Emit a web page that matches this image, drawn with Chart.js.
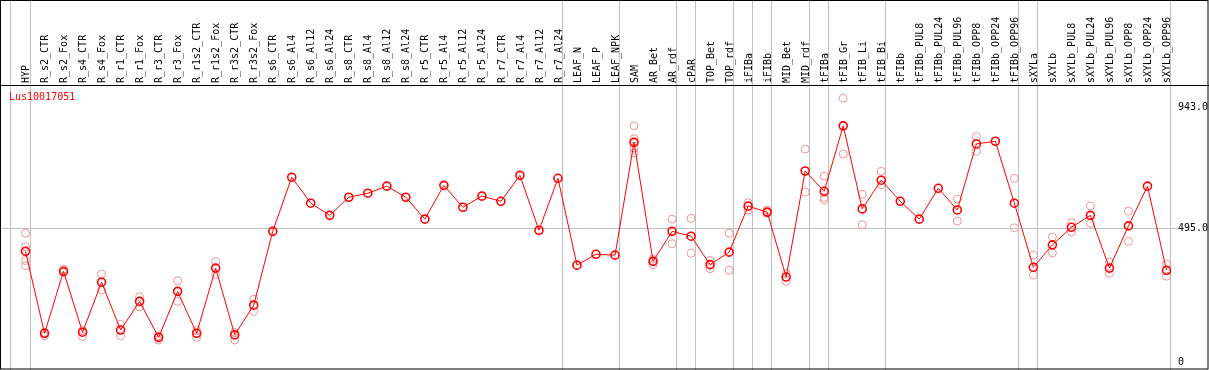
<!DOCTYPE html>
<html>
<head>
<meta charset="utf-8">
<script src="https://cdn.jsdelivr.net/npm/chart.js@4.4.1/dist/chart.umd.min.js"></script>
<style>
  html, body { margin: 0; padding: 0; background: #fff; }
  #wrap { width: 1209px; height: 370px; }
</style>
</head>
<body>
<div id="wrap"><canvas id="chart" width="1209" height="370"></canvas></div>
<script>
// gene shown in the panel
var geneName = 'Lus10017051';

var categories = [
    'HYP', 'R_s2_CTR', 'R_s2_Fox', 'R_s4_CTR', 'R_s4_Fox', 'R_r1_CTR', 'R_r1_Fox',
    'R_r3_CTR', 'R_r3_Fox', 'R_r1s2_CTR', 'R_r1s2_Fox', 'R_r3s2_CTR', 'R_r3s2_Fox',
    'R_s6_CTR', 'R_s6_Al4', 'R_s6_Al12', 'R_s6_Al24', 'R_s8_CTR', 'R_s8_Al4',
    'R_s8_Al12', 'R_s8_Al24', 'R_r5_CTR', 'R_r5_Al4', 'R_r5_Al12', 'R_r5_Al24',
    'R_r7_CTR', 'R_r7_Al4', 'R_r7_Al12', 'R_r7_Al24', 'LEAF_N', 'LEAF_P', 'LEAF_NPK',
    'SAM', 'AR_Bet', 'AR_rdf', 'cPAR', 'TOP_Bet', 'TOP_rdf', 'iFIBa', 'iFIBb',
    'MID_Bet', 'MID_rdf', 'tFIBa', 'tFIB_Gr', 'tFIB_Li', 'tFIB_Bi', 'tFIBb',
    'tFIBb_PUL8', 'tFIBb_PUL24', 'tFIBb_PUL96', 'tFIBb_OPP8', 'tFIBb_OPP24', 'tFIBb_OPP96',
    'sXYLa', 'sXYLb', 'sXYLb_PUL8', 'sXYLb_PUL24', 'sXYLb_PUL96',
    'sXYLb_OPP8', 'sXYLb_OPP24', 'sXYLb_OPP96'
];

// mean expression per sample
var meanValues = [
    409, 106, 335, 110, 295, 118, 224, 91, 261, 106, 347, 100, 210,
    483, 683, 587, 542, 609, 624, 650, 609, 528, 653, 572, 613,
    594, 690, 487, 679, 358, 398, 395,
    812, 372, 483, 465, 360, 406, 576, 554,
    314, 706, 631, 873, 566, 672, 594,
    528, 642, 562, 806, 816, 587,
    350, 433, 498, 542, 347, 503, 650, 339
];

// individual replicates (empty where only the mean is visible)
var replicateValues = [
    [476, 426, 375, 356], [110, 97], [343, 332], [116, 94], [325, 266], [139, 97], [241, 204],
    [97, 81], [300, 224], [116, 91], [371, 324], [110, 81], [232, 187],
    [], [], [], [], [], [], [], [], [], [], [], [],
    [], [], [], [], [], [], [],
    [873, 825, 791, 773], [380, 360], [528, 437], [531, 402], [375, 345], [476, 339], [589, 562], [562, 550],
    [327, 298], [787, 628], [687, 608, 599], [975, 769], [620, 507], [705, 655], [],
    [], [], [602, 521], [833, 779], [], [679, 496],
    [395, 321], [462, 403], [515, 481], [577, 513], [369, 328], [558, 446], [], [362, 317]
];

var yTickValues = [0, 495, 943];
var yTickLabels = ['0', '495.0', '943.0'];

// sample index after which a group separator is drawn
var groupEnds = [-1, 0, 28, 31, 34, 35, 37, 38, 39, 41, 42, 45, 52, 53, 60];

var monoFont = { family: 'DejaVu Sans Mono', size: 10 };

var replicatePoints = [];
replicateValues.forEach(function (reps, i) {
    reps.forEach(function (v) {
        replicatePoints.push({ x: categories[i], y: v });
    });
});

var framePlugin = {
    id: 'frame',
    beforeDraw: function (chart) {
        var ctx = chart.ctx;
        var xs = chart.scales.x;
        var ys = chart.scales.y;
        var step = xs.getPixelForValue(1) - xs.getPixelForValue(0);
        ctx.save();
        ctx.strokeStyle = '#c0c0c0';
        ctx.lineWidth = 1;
        groupEnds.forEach(function (i) {
            var x = Math.round(xs.getPixelForValue(0) + step * i + 4) + 0.5;
            ctx.beginPath();
            ctx.moveTo(x, 0);
            ctx.lineTo(x, chart.height);
            ctx.stroke();
        });
        var y = Math.round(ys.getPixelForValue(495)) + 0.5;
        ctx.beginPath();
        ctx.moveTo(1, y);
        ctx.lineTo(chart.chartArea.right + 2, y);
        ctx.stroke();
        ctx.restore();
    },
    afterDraw: function (chart) {
        var ctx = chart.ctx;
        var ys = chart.scales.y;
        ctx.save();
        ctx.strokeStyle = '#000';
        ctx.lineWidth = 1;
        ctx.strokeRect(0.5, 0.5, chart.width - 1.5, chart.height - 1.5);
        ctx.beginPath();
        ctx.moveTo(0, 85.5);
        ctx.lineTo(chart.width, 85.5);
        ctx.stroke();
        ctx.font = '10px "DejaVu Sans Mono"';
        ctx.textBaseline = 'middle';
        ctx.textAlign = 'left';
        ctx.fillStyle = '#000';
        yTickValues.forEach(function (v, k) {
            ctx.fillText(yTickLabels[k], chart.chartArea.right + 2, ys.getPixelForValue(v));
        });
        ctx.fillStyle = '#ff0000';
        ctx.fillText(geneName, 9, 97);
        ctx.restore();
    }
};

new Chart(document.getElementById('chart').getContext('2d'), {
    type: 'line',
    data: {
        labels: categories,
        datasets: [{
            label: 'mean',
            data: meanValues,
            borderColor: '#ff0000',
            borderWidth: 1,
            pointRadius: 4,
            pointBorderWidth: 1.6,
            pointBorderColor: '#ff0000',
            pointBackgroundColor: 'rgba(0,0,0,0)',
            tension: 0,
            fill: false
        }, {
            label: 'replicates',
            data: replicatePoints,
            showLine: false,
            pointRadius: 4,
            pointBorderWidth: 1,
            pointBorderColor: '#ee9494',
            pointBackgroundColor: 'rgba(0,0,0,0)'
        }]
    },
    options: {
        responsive: false,
        maintainAspectRatio: false,
        animation: false,
        layout: {
            autoPadding: false,
            padding: { left: 16, right: 33, top: 0, bottom: 1 }
        },
        plugins: {
            legend: { display: false },
            tooltip: { enabled: false }
        },
        scales: {
            x: {
                type: 'category',
                position: 'top',
                offset: true,
                grid: { display: false, drawTicks: false },
                border: { display: false },
                ticks: {
                    autoSkip: false,
                    minRotation: 90,
                    maxRotation: 90,
                    padding: 2,
                    labelOffset: 13,
                    color: '#000',
                    font: monoFont
                },
                afterFit: function (scale) { scale.height = 85; }
            },
            y: {
                display: false,
                min: -26,
                max: 1024
            }
        }
    },
    plugins: [framePlugin]
});
</script>
</body>
</html>
